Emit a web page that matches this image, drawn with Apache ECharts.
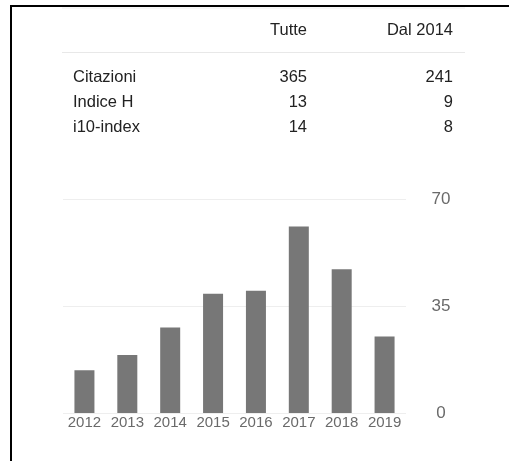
<!DOCTYPE html>
<html>
<head>
<meta charset="utf-8">
<script src="https://cdn.jsdelivr.net/npm/echarts@6/dist/echarts.min.js"></script>
<style>
  html, body { margin: 0; padding: 0; background: #fff; }
  #frame {
    position: absolute; left: 10px; top: 5px; width: 499px; height: 456px;
    border-top: 2px solid #000; border-left: 2px solid #000; box-sizing: border-box;
  }
  #chart { position: absolute; left: 0; top: 0; width: 509px; height: 461px; }
</style>
</head>
<body>
<div id="chart"></div>
<div id="frame"></div>
<script>
// table data
const colHeaders = ['Tutte', 'Dal 2014']
const rowLabels = ['Citazioni', 'Indice H', 'i10-index']
const allValues = [365, 13, 14]
const since2014Values = [241, 9, 8]

// chart data
const years = ['2012', '2013', '2014', '2015', '2016', '2017', '2018', '2019']
const citations = [14, 19, 28, 39, 40, 61, 47, 25]
const yTicks = [0, 35, 70]

const font = '"Liberation Sans", Arial, Helvetica, sans-serif'
const myChart = echarts.init(document.getElementById('chart'))

// table drawn as graphic text
const graphics = [
  { type: 'line', shape: { x1: 62, y1: 8, x2: 465, y2: 8 }, style: { stroke: '#eee', lineWidth: 1 } },
  { type: 'line', shape: { x1: 62, y1: 52.5, x2: 465, y2: 52.5 }, style: { stroke: '#e8e8e8', lineWidth: 1 } }
]
const colX = [307, 453]
const tableFont = '16.5px ' + font
colHeaders.forEach((h, i) => {
  graphics.push({
    type: 'text', x: colX[i], y: 30,
    style: { text: h, font: tableFont, fill: '#222', align: 'right', verticalAlign: 'middle' }
  })
})
const rowY = [77, 102, 127]
rowLabels.forEach((label, i) => {
  graphics.push({
    type: 'text', x: 73, y: rowY[i],
    style: { text: label, font: tableFont, fill: '#222', align: 'left', verticalAlign: 'middle' }
  })
  graphics.push({
    type: 'text', x: colX[0], y: rowY[i],
    style: { text: String(allValues[i]), font: tableFont, fill: '#222', align: 'right', verticalAlign: 'middle' }
  })
  graphics.push({
    type: 'text', x: colX[1], y: rowY[i],
    style: { text: String(since2014Values[i]), font: tableFont, fill: '#222', align: 'right', verticalAlign: 'middle' }
  })
})

const option = {
  animation: false,
  grid: { left: 63, right: 103, top: 199, bottom: 48 },
  xAxis: {
    type: 'category',
    data: years,
    axisLine: { show: false },
    axisTick: { show: false },
    axisLabel: { color: '#6a6a6a', fontSize: 15, fontFamily: font, margin: 2, interval: 0 }
  },
  yAxis: {
    type: 'value',
    position: 'right',
    min: yTicks[0],
    max: yTicks[yTicks.length - 1],
    interval: yTicks[1] - yTicks[0],
    axisLine: { show: false },
    axisTick: { show: false },
    splitLine: { lineStyle: { color: '#eee', width: 1 } },
    axisLabel: { color: '#6a6a6a', fontSize: 17, fontFamily: font, margin: 35, align: 'center' }
  },
  graphic: graphics,
  series: [
    {
      name: 'Citazioni',
      type: 'bar',
      data: citations,
      barWidth: 20,
      itemStyle: { color: '#777' }
    }
  ]
}
myChart.setOption(option)
</script>
</body>
</html>
